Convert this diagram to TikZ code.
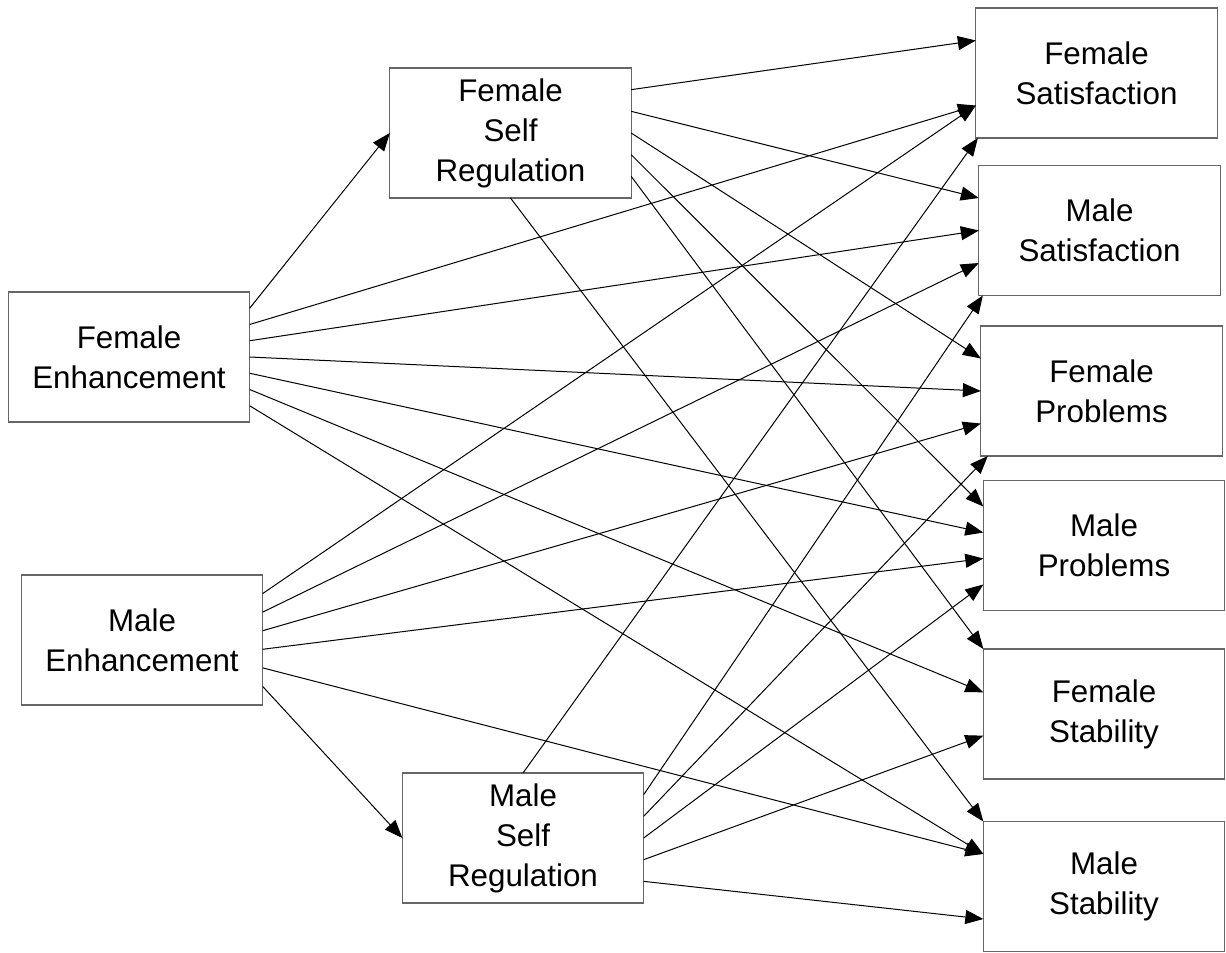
\documentclass[tikz,border=0pt]{standalone}
\usepackage{fontspec}
\setmainfont{Liberation Sans}
\usetikzlibrary{arrows.meta,calc}
\begin{document}
\begin{tikzpicture}[x=0.75pt,y=-0.75pt,
  box/.style={draw=black!60, line width=0.9pt, minimum width=181pt, minimum height=97.5pt,
    inner sep=0pt, outer sep=0pt, align=center, font=\fontsize{23.5pt}{30pt}\selectfont},
  arr/.style={-{Triangle[length=13.5pt,width=10.5pt]}, line width=0.75pt, black}]
\useasboundingbox (0,0) rectangle (1226,952);

% sources
\node[box] (fe) at (129,357) {Female\\Enhancement};
\node[box] (me) at (142,640) {Male\\Enhancement};
\node[box] (fsr) at (510.5,133) {Female\\Self\\Regulation};
\node[box] (msr) at (523,838) {Male\\Self\\Regulation};
% outcomes
\node[box] (fsat) at (1096.5,73) {Female\\Satisfaction};
\node[box] (msat) at (1099.5,230.5) {Male\\Satisfaction};
\node[box] (fp) at (1101.5,391) {Female\\Problems};
\node[box] (mp) at (1104,545.5) {Male\\Problems};
\node[box] (fst) at (1104,714) {Female\\Stability};
\node[box] (mst) at (1104,886.5) {Male\\Stability};

% Female Enhancement
\draw[arr] ($(fe.north east)!0.125!(fe.south east)$) -- (fsr.west);
\draw[arr] ($(fe.north east)!0.25!(fe.south east)$) -- ($(fsat.north west)!0.75!(fsat.south west)$);
\draw[arr] ($(fe.north east)!0.375!(fe.south east)$) -- (msat.west);
\draw[arr] (fe.east) -- (fp.west);
\draw[arr] ($(fe.north east)!0.625!(fe.south east)$) -- ($(mp.north west)!0.4!(mp.south west)$);
\draw[arr] ($(fe.north east)!0.75!(fe.south east)$) -- ($(fst.north west)!0.3333!(fst.south west)$);
\draw[arr] ($(fe.north east)!0.875!(fe.south east)$) -- ($(mst.north west)!0.25!(mst.south west)$);

% Male Enhancement
\draw[arr] ($(me.north east)!0.142857!(me.south east)$) -- ($(fsat.north west)!0.75!(fsat.south west)$);
\draw[arr] ($(me.north east)!0.285714!(me.south east)$) -- ($(msat.north west)!0.75!(msat.south west)$);
\draw[arr] ($(me.north east)!0.428571!(me.south east)$) -- ($(fp.north west)!0.75!(fp.south west)$);
\draw[arr] ($(me.north east)!0.571429!(me.south east)$) -- ($(mp.north west)!0.6!(mp.south west)$);
\draw[arr] ($(me.north east)!0.714286!(me.south east)$) -- ($(mst.north west)!0.25!(mst.south west)$);
\draw[arr] ($(me.north east)!0.857143!(me.south east)$) -- (msr.west);

% Female Self Regulation
\draw[arr] ($(fsr.north east)!0.166667!(fsr.south east)$) -- ($(fsat.north west)!0.25!(fsat.south west)$);
\draw[arr] ($(fsr.north east)!0.333333!(fsr.south east)$) -- ($(msat.north west)!0.25!(msat.south west)$);
\draw[arr] (fsr.east) -- ($(fp.north west)!0.25!(fp.south west)$);
\draw[arr] ($(fsr.north east)!0.666667!(fsr.south east)$) -- ($(mp.north west)!0.2!(mp.south west)$);
\draw[arr] ($(fsr.north east)!0.833333!(fsr.south east)$) -- (fst.north west);
\draw[arr] (fsr.south) -- (mst.north west);

% Male Self Regulation
\draw[arr] (msr.north) -- ($(fsat.south west)+(2,0)$);
\draw[arr] ($(msr.north east)!0.166667!(msr.south east)$) -- ($(msat.south west)+(4,0)$);
\draw[arr] ($(msr.north east)!0.333333!(msr.south east)$) -- ($(fp.south west)+(7,0)$);
\draw[arr] (msr.east) -- ($(mp.north west)!0.8!(mp.south west)$);
\draw[arr] ($(msr.north east)!0.666667!(msr.south east)$) -- ($(fst.north west)!0.6667!(fst.south west)$);
\draw[arr] ($(msr.north east)!0.833333!(msr.south east)$) -- ($(mst.north west)!0.75!(mst.south west)$);
\end{tikzpicture}
\end{document}
